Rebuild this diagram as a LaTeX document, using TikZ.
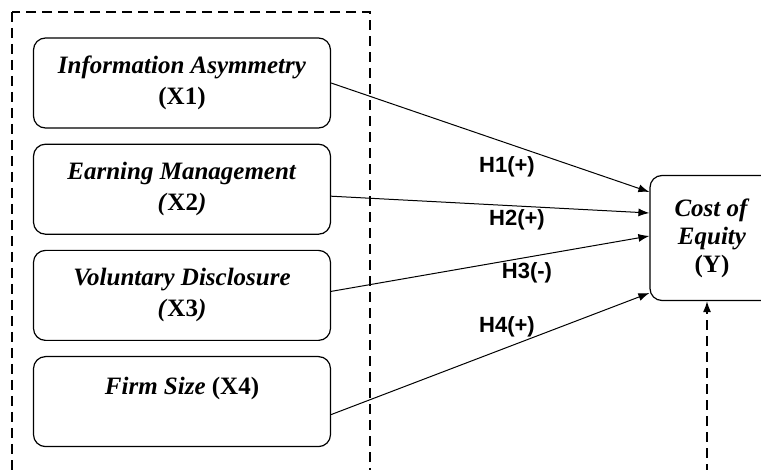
\documentclass[tikz,border=0pt]{standalone}
\usepackage{fontspec}
\setmainfont{Liberation Serif}
\newfontfamily\hypfont{Liberation Sans}
\usetikzlibrary{arrows.meta,positioning,calc}

\begin{document}
\begin{tikzpicture}
[x=1pt,y=-1pt,node distance=15pt,>={Latex[length=11pt,width=8pt]},
var/.style =
{draw, rounded corners=12pt, line width=1.2pt, align=center,
 minimum width=297pt, minimum height=90pt,
 font=\fontsize{25}{31}\selectfont\bfseries},
hyp/.style = {font=\fontsize{22}{24}\selectfont\hypfont\bfseries},
frame/.style = {draw, line width=1.4pt, dash pattern=on 10pt off 6pt}]
\useasboundingbox (0,0) rectangle (761,470);

\node [var] (x1) at (182,83) {\textit{Information Asymmetry}\\(X1)};
\node [var, below=of x1] (x2) {\textit{Earning Management}\\\textit{(}X2\textit{)}};
\node [var, below=of x2] (x3) {\textit{Voluntary Disclosure}\\\textit{(}X3\textit{)}};
\node [var, below=of x3] (x4) {\textit{Firm Size} (X4)\\~};

\node [var, minimum width=124pt, minimum height=125pt,
 font=\fontsize{25}{28}\selectfont\bfseries] (y) at (712,238)
 {\textit{Cost of}\\\textit{Equity}\\(Y)};

% dashed frame round the independent variables
\draw [frame] (12,12) rectangle (370,490);

\draw [->, line width=1pt] (x1.east) -- ([yshift=46pt]y.west);
\draw [->, line width=1pt] ([yshift=-7pt]x2.east) -- ([yshift=25pt]y.west);
\draw [->, line width=1pt] ([yshift=4pt]x3.east) -- ([yshift=2pt]y.west);
\draw [->, line width=1pt] ([yshift=-13pt]x4.east) -- ([yshift=-55pt]y.west);

\node [hyp] (h1) at (507,167) {H1(+)};
\node [hyp] (h2) at (517,220) {H2(+)};
\node [hyp] (h3) at (527,273) {H3(-)};
\node [hyp] (h4) at (507,327) {H4(+)};

\coordinate (m1) at (640,470.8);
\coordinate (m2) at (707,470.8);
\draw [frame, ->] (m1) -- (m2) -- (m2 |- y.south);
\end{tikzpicture}
\end{document}
